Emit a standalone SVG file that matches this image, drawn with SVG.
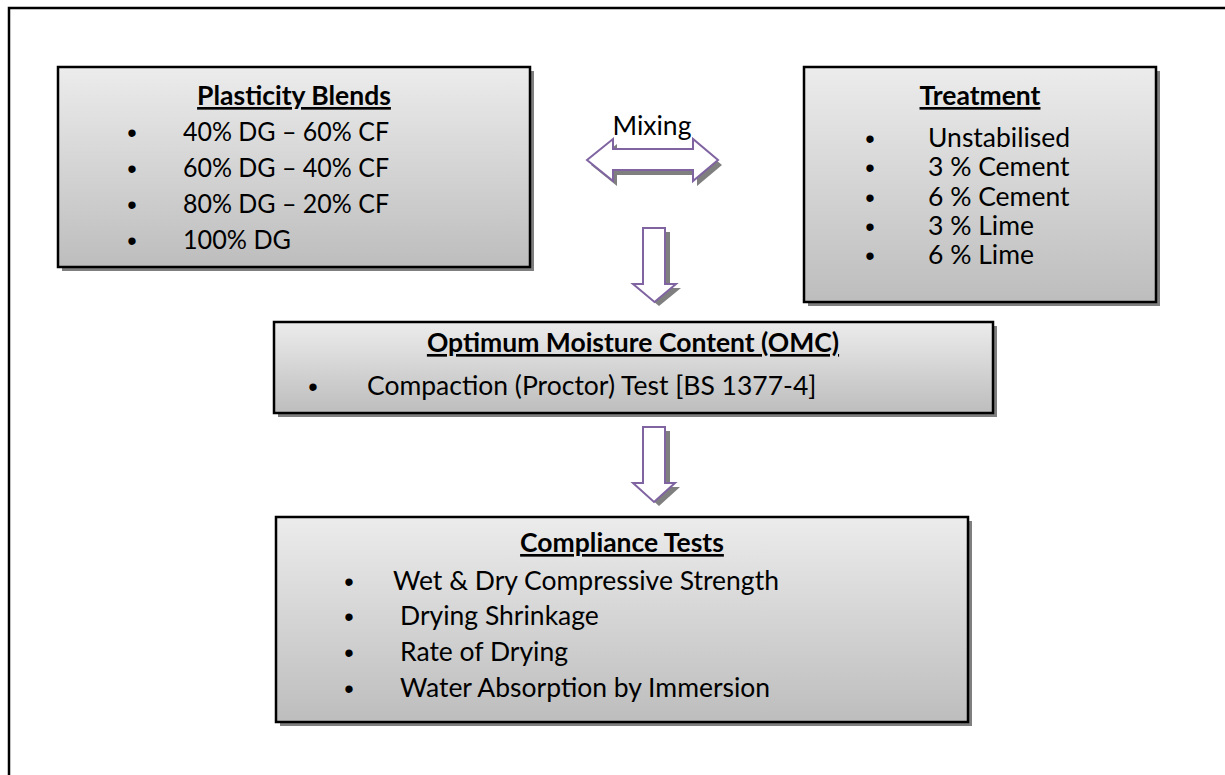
<svg xmlns="http://www.w3.org/2000/svg" width="1225" height="775" viewBox="0 0 1225 775">
<defs>
<linearGradient id="g" x1="0" y1="0" x2="0" y2="1">
<stop offset="0" stop-color="#ececec"/>
<stop offset="1" stop-color="#bdbdbd"/>
</linearGradient>
<style>
.box{fill:url(#g);stroke:#000;stroke-width:2.5}
.sh{fill:#7f7f7f}
.t{font-family:Lato,"Liberation Sans",sans-serif;font-size:26.5px;fill:#000}
.h{font-family:Lato,"Liberation Sans",sans-serif;font-size:26.5px;font-weight:bold;text-decoration:underline;text-anchor:middle;fill:#000}
.b{font-family:"Liberation Sans",sans-serif;font-size:27px;text-anchor:middle;fill:#000}
.ar{fill:#fff;stroke:#8064a2;stroke-width:2}
.as{fill:#7f7f7f}
.frame{fill:none;stroke:#000;stroke-width:2.5}
</style>
</defs>
<rect x="0" y="0" width="1225" height="775" fill="#fff"/>
<path class="frame" d="M9,775 L9,8 L1225,8"/>

<g id="connectors">
<g id="mixing">
<path class="as" d="M591,165 L617,144 L617,154 L697,154 L697,144 L722,165 L697,186 L697,175 L617,175 L617,186 Z"/>
<path class="ar" d="M587,160 L613,139 L613,149 L693,149 L693,139 L718,160 L693,181 L693,170 L613,170 L613,181 Z"/>
<text class="t" x="652" y="135" text-anchor="middle" font-size="28.5">Mixing</text>
</g>
<g id="arrow1">
<path class="as" d="M648,232 L670,232 L670,288 L681,288 L659,306 L637,288 L648,288 Z"/>
<path class="ar" d="M643,228 L665,228 L665,284 L676,284 L654.5,302 L633,284 L643,284 Z"/>
</g>
<g id="arrow2">
<path class="as" d="M648,431 L670,431 L670,487 L680,487 L659,506 L638,487 L648,487 Z"/>
<path class="ar" d="M643,427 L665,427 L665,483 L675,483 L654,502 L633,483 L643,483 Z"/>
</g>
</g>

<g id="plasticity">
<rect class="sh" x="62" y="71" width="472" height="200"/>
<rect class="box" x="58" y="67" width="472" height="200"/>
<text class="h" x="294" y="105">Plasticity Blends</text>
<text class="b" x="132" y="142">•</text><text class="t" x="183" y="141" textLength="206" lengthAdjust="spacingAndGlyphs">40% DG – 60% CF</text>
<text class="b" x="132" y="178">•</text><text class="t" x="183" y="177" textLength="206" lengthAdjust="spacingAndGlyphs">60% DG – 40% CF</text>
<text class="b" x="132" y="214">•</text><text class="t" x="183" y="213" textLength="206" lengthAdjust="spacingAndGlyphs">80% DG – 20% CF</text>
<text class="b" x="132" y="250">•</text><text class="t" x="183" y="249" textLength="108" lengthAdjust="spacingAndGlyphs">100% DG</text>
</g>

<g id="treatment">
<rect class="sh" x="808" y="71" width="352" height="235"/>
<rect class="box" x="804" y="67" width="352" height="235"/>
<text class="h" x="980" y="105">Treatment</text>
<text class="b" x="870" y="148">•</text><text class="t" x="928" y="147">Unstabilised</text>
<text class="b" x="870" y="177">•</text><text class="t" x="928" y="176">3 % Cement</text>
<text class="b" x="870" y="207">•</text><text class="t" x="928" y="206">6 % Cement</text>
<text class="b" x="870" y="236">•</text><text class="t" x="928" y="235">3 % Lime</text>
<text class="b" x="870" y="265">•</text><text class="t" x="928" y="264">6 % Lime</text>
</g>

<g id="omc">
<rect class="sh" x="278" y="326" width="719" height="91"/>
<rect class="box" x="274" y="322" width="719" height="91"/>
<text class="h" x="633" y="352">Optimum Moisture Content (OMC)</text>
<text class="b" x="313" y="396">•</text><text class="t" x="367" y="395">Compaction (Proctor) Test [BS 1377-4]</text>
</g>

<g id="compliance">
<rect class="sh" x="280" y="521" width="692" height="205"/>
<rect class="box" x="276" y="517" width="692" height="205"/>
<text class="h" x="622" y="552">Compliance Tests</text>
<text class="b" x="349" y="591">•</text><text class="t" x="393" y="590">Wet &amp; Dry Compressive Strength</text>
<text class="b" x="349" y="626">•</text><text class="t" x="400" y="625">Drying Shrinkage</text>
<text class="b" x="349" y="662">•</text><text class="t" x="400" y="661">Rate of Drying</text>
<text class="b" x="349" y="698">•</text><text class="t" x="400" y="697">Water Absorption by Immersion</text>
</g>
</svg>
